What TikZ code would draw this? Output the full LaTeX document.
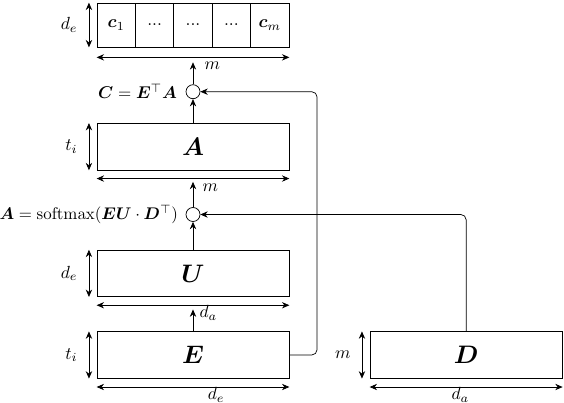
\documentclass[tikz,border=0pt]{standalone}
\usepackage{amsmath}
\usepackage{bm}
\usepackage{tikz}
\usetikzlibrary{arrows.meta}

\begin{document}
\begin{tikzpicture}[x=1cm,y=1cm,
  >={Stealth[length=4.2pt,width=3.6pt]},
  matbox/.style={draw,minimum width=3.84cm,minimum height=0.93cm,inner sep=0pt,font=\Large},
  cellbox/.style={draw,minimum width=0.768cm,minimum height=0.88cm,inner sep=0pt},
  opnode/.style={draw,circle,minimum size=0.28cm,inner sep=0pt},
  dimline/.style={<->},
  sidelabel/.style={midway,left=3pt},
  underlabel/.style={below,inner sep=0.5pt,text height=6.4pt,text depth=1.5pt}]
\path[use as bounding box] (0,0) rectangle (11.28,8.04);
\node[cellbox] (cell1) at (2.324,7.54) {$\bm{c}_1$};
\node[cellbox] (cell2) at (3.092,7.54) {...};
\node[cellbox] (cell3) at (3.860,7.54) {...};
\node[cellbox] (cell4) at (4.628,7.54) {...};
\node[cellbox] (cell5) at (5.396,7.54) {$\bm{c}_m$};
\draw[dimline] ([xshift=-0.154cm]cell1.north west) -- ([xshift=-0.154cm]cell1.south west) node[sidelabel] {$d_e$};
\draw[dimline] ([yshift=-0.2cm]cell1.south west) -- ([yshift=-0.2cm]cell5.south east) node[pos=0.6,underlabel] {$m$};
\node[opnode,label={[label distance=1.5pt,scale=0.97]left:$\bm{C}=\bm{E}^\top\bm{A}$}] (Cop) at (3.86,6.206) {};
\node[matbox] (A) at (3.86,5.107) {$\bm{A}$};
\draw[dimline] ([xshift=-0.154cm]A.north west) -- ([xshift=-0.154cm]A.south west) node[sidelabel] {$t_i$};
\draw[dimline] ([yshift=-0.166cm]A.south west) -- ([yshift=-0.166cm]A.south east) node[pos=0.59,underlabel] {$m$};
\node[opnode,label={[label distance=1pt,scale=0.96]left:$\bm{A}=\mathrm{softmax}(\bm{EU}\cdot\bm{D}^\top)$}] (Aop) at (3.86,3.75) {};
\node[matbox] (U) at (3.86,2.573) {$\bm{U}$};
\draw[dimline] ([xshift=-0.154cm]U.north west) -- ([xshift=-0.154cm]U.south west) node[sidelabel] {$d_e$};
\draw[dimline] ([yshift=-0.166cm]U.south west) -- ([yshift=-0.166cm]U.south east) node[pos=0.58,underlabel] {$d_a$};
\node[matbox] (E) at (3.86,0.94) {$\bm{E}$};
\draw[dimline] ([xshift=-0.154cm]E.north west) -- ([xshift=-0.154cm]E.south west) node[sidelabel] {$t_i$};
\draw[dimline] ([yshift=-0.168cm]E.south west) -- ([yshift=-0.168cm]E.south east) node[pos=0.62,underlabel] {$d_e$};
\node[matbox,minimum width=3.846cm] (D) at (9.323,0.94) {$\bm{D}$};
\draw[dimline] ([xshift=-0.154cm]D.north west) -- ([xshift=-0.154cm]D.south west) node[sidelabel] {$m$};
\draw[dimline] ([yshift=-0.168cm]D.south west) -- ([yshift=-0.168cm]D.south east) node[pos=0.47,underlabel] {$d_a$};
\draw[->,shorten >=7.1pt] (E) -- (U);
\draw[->] (U) -- (Aop);
\draw[->,shorten >=6.6pt] (Aop) -- (A);
\draw[->] (A) -- (Cop);
\draw[->,shorten >=8.5pt] (Cop) -- (cell3);
\draw[->,rounded corners=3pt] (E.east) -- ++(0.554,0) |- (Cop.east);
\draw[->,rounded corners=3pt] (D.north) |- (Aop.east);
\end{tikzpicture}
\end{document}
